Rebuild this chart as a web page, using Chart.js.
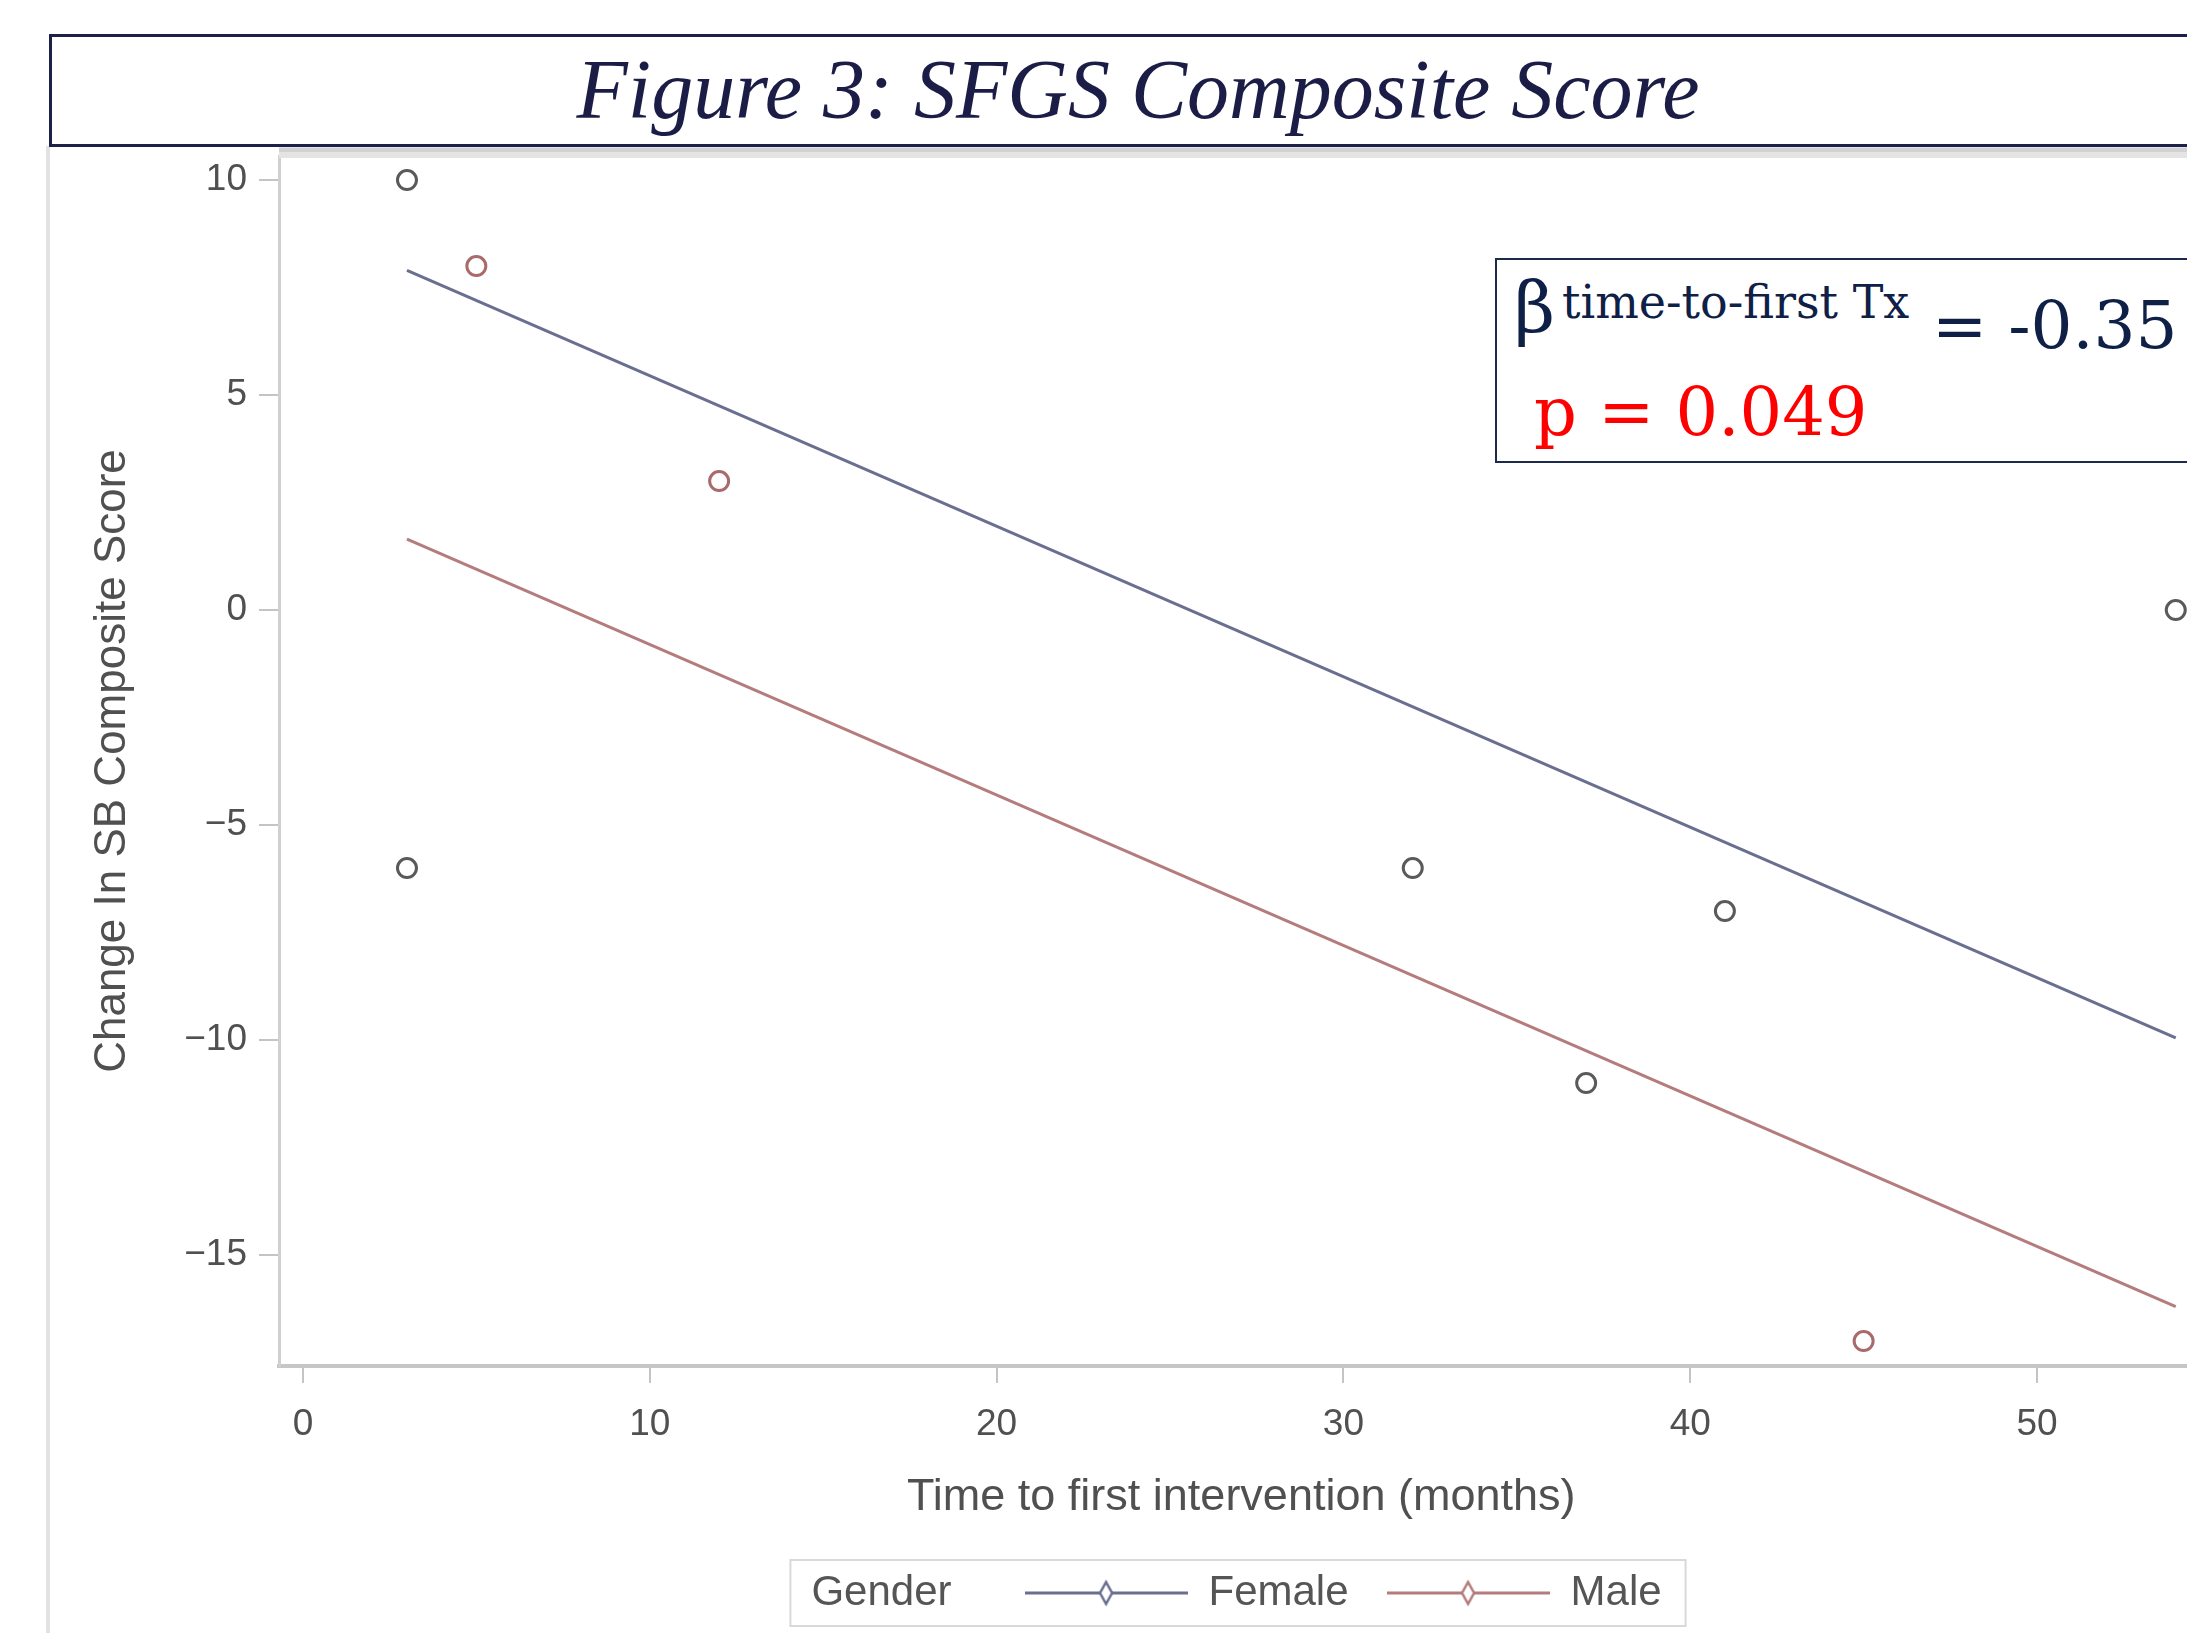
<!DOCTYPE html>
<html>
<head>
<meta charset="utf-8">
<title>Figure 3: SFGS Composite Score</title>
<script src="https://cdn.jsdelivr.net/npm/chart.js@4.4.0/dist/chart.umd.min.js"></script>
<style>
  html, body { margin: 0; padding: 0; background: #fff; overflow: hidden; width: 2187px; height: 1633px; }
  #slideEdge { position: absolute; left: 46px; top: 146px; width: 4px; height: 1487px; background: #e2e2e2; }
  #titleBox { position: absolute; left: 49px; top: 34px; width: 2200px; height: 113px; box-sizing: border-box;
              border: 3px solid #1d2048; background: #fff; }
  #titleText { position: absolute; left: 1138px; top: 48px; transform: translateX(-50%); white-space: nowrap;
               font-family: "Liberation Serif", serif; font-style: italic; font-size: 84px; line-height: 1; color: #1b1d47; }
  #sfgsChart { position: absolute; left: 0; top: 0; }
  #statBox { position: absolute; left: 1495px; top: 258px; width: 800px; height: 205px; box-sizing: border-box;
             border: 2px solid #1d2a4c; background: #fff; }
  .stat { position: absolute; white-space: nowrap; line-height: 1; font-family: "DejaVu Serif", serif; color: #0f2046; }
  #beta { left: 1514px; top: 272px; font-size: 71px; }
  #betaSup { left: 1562px; top: 279px; font-size: 46px; }
  #betaVal { left: 1932px; top: 293px; font-size: 66px; }
  #pVal { left: 1534px; top: 379px; font-size: 67px; color: #ff0000; }
</style>
</head>
<body>
<div id="slideEdge"></div>
<canvas id="sfgsChart" width="2216" height="1633"></canvas>
<div id="titleBox"></div>
<div id="titleText">Figure 3: SFGS Composite Score</div>
<div id="statBox"></div>
<span class="stat" id="beta">β</span>
<span class="stat" id="betaSup">time-to-first Tx</span>
<span class="stat" id="betaVal">= -0.35</span>
<span class="stat" id="pVal">p = 0.049</span>
<script>
const femaleMonths = [3, 3, 32, 37, 41, 54];
const femaleChange = [10, -6, -6, -11, -7, 0];
const maleMonths = [5, 12, 45];
const maleChange = [8, 3, -17];

// fitted lines (start and end of each)
const fitMonths = [3, 54];
const femaleFit = [7.9, -9.95];
const maleFit = [1.65, -16.2];

const legendNames = ["Gender", "Female", "Male"];

const femaleColor = "#6a6f90";
const maleColor = "#b47c7c";

function toPoints(xs, ys) {
    return xs.map((x, i) => ({ x: x, y: ys[i] }));
}

// little line-with-diamond sample used in the legend
function legendSample(color) {
    const c = document.createElement("canvas");
    c.width = 163;
    c.height = 30;
    const g = c.getContext("2d");
    if (color) {
        g.strokeStyle = color;
        g.lineWidth = 3;
        g.beginPath();
        g.moveTo(0, 15);
        g.lineTo(163, 15);
        g.stroke();
        g.fillStyle = "#fff";
        g.lineWidth = 2.5;
        g.beginPath();
        g.moveTo(81.5, 4);
        g.lineTo(87.5, 15);
        g.lineTo(81.5, 26);
        g.lineTo(75.5, 15);
        g.closePath();
        g.fill();
        g.stroke();
    }
    return c;
}

const topFrame = {
    id: "topFrame",
    beforeDatasetsDraw(chart) {
        const { ctx, chartArea } = chart;
        ctx.save();
        ctx.strokeStyle = "#e4e4e4";
        ctx.lineWidth = 12;
        ctx.beginPath();
        ctx.moveTo(chartArea.left, chartArea.top - 4);
        ctx.lineTo(chartArea.right, chartArea.top - 4);
        ctx.stroke();
        ctx.strokeStyle = "#d2d2d2";
        ctx.lineWidth = 4;
        ctx.beginPath();
        ctx.moveTo(chartArea.left, chartArea.top - 6);
        ctx.lineTo(chartArea.right, chartArea.top - 6);
        ctx.stroke();
        ctx.restore();
    }
};

const legendFrame = {
    id: "legendFrame",
    afterDraw(chart) {
        const lg = chart.legend;
        const boxes = lg.legendHitBoxes;
        if (!boxes || !boxes.length) return;
        const first = boxes[0];
        const last = boxes[boxes.length - 1];
        const x0 = first.left + 163;
        const x1 = last.left + last.width + 24;
        const yc = first.top + first.height / 2;
        const ctx = chart.ctx;
        ctx.save();
        ctx.strokeStyle = "#d9d9d9";
        ctx.lineWidth = 2;
        ctx.strokeRect(x0, yc - 33, x1 - x0, 66);
        ctx.restore();
    }
};

Chart.defaults.font.family = "'Liberation Sans', Arial, sans-serif";

const ctx = document.getElementById("sfgsChart").getContext("2d");

new Chart(ctx, {
    type: "scatter",
    data: {
        datasets: [
            {
                label: "Female fit",
                data: toPoints(fitMonths, femaleFit),
                showLine: true,
                borderColor: femaleColor,
                borderWidth: 3,
                pointRadius: 0
            },
            {
                label: "Male fit",
                data: toPoints(fitMonths, maleFit),
                showLine: true,
                borderColor: maleColor,
                borderWidth: 3,
                pointRadius: 0
            },
            {
                label: "Female",
                data: toPoints(femaleMonths, femaleChange),
                pointStyle: "circle",
                pointRadius: 9.5,
                pointBorderWidth: 3,
                pointBorderColor: "#5a5a5a",
                pointBackgroundColor: "rgba(255,255,255,0)"
            },
            {
                label: "Male",
                data: toPoints(maleMonths, maleChange),
                pointStyle: "circle",
                pointRadius: 9.5,
                pointBorderWidth: 3,
                pointBorderColor: "#a86a6a",
                pointBackgroundColor: "rgba(255,255,255,0)"
            }
        ]
    },
    options: {
        responsive: false,
        animation: false,
        layout: { padding: { left: 73, top: 156, right: 0, bottom: 9 } },
        plugins: {
            tooltip: { enabled: false },
            legend: {
                position: "bottom",
                onClick: () => {},
                labels: {
                    usePointStyle: true,
                    pointStyleWidth: 163,
                    padding: 38,
                    color: "#555",
                    font: { size: 42 },
                    generateLabels: () => [
                        { text: legendNames[0] + "   ", pointStyle: legendSample(null), fontColor: "#555" },
                        { text: legendNames[1], pointStyle: legendSample(femaleColor), fontColor: "#555" },
                        { text: legendNames[2], pointStyle: legendSample(maleColor), fontColor: "#555" }
                    ]
                }
            }
        },
        scales: {
            x: {
                type: "linear",
                min: -0.69,
                max: 54.8,
                afterFit: (s) => { s.height = 168; },
                ticks: { stepSize: 10, includeBounds: false, color: "#505050", font: { size: 37 }, padding: 20 },
                grid: { drawOnChartArea: false, tickLength: 17, color: "#c4c4c4", lineWidth: 2 },
                border: { color: "#c6c6c6", width: 4 },
                title: {
                    display: true,
                    text: "Time to first intervention (months)",
                    color: "#505050",
                    font: { size: 45 },
                    padding: { top: 0, bottom: 9 }
                }
            },
            y: {
                type: "linear",
                min: -17.58,
                max: 10.56,
                afterFit: (s) => { s.width = 206; },
                ticks: {
                    stepSize: 5,
                    includeBounds: false,
                    color: "#505050",
                    font: { size: 37 },
                    padding: 12,
                    callback: (v) => String(v).replace("-", "\u2212")
                },
                grid: { drawOnChartArea: false, tickLength: 20, color: "#c4c4c4", lineWidth: 2 },
                border: { color: "#d0d0d0", width: 3 },
                title: {
                    display: true,
                    text: "Change In SB Composite Score",
                    color: "#505050",
                    font: { size: 44 },
                    padding: { top: 13, bottom: 0 }
                }
            }
        }
    },
    plugins: [topFrame, legendFrame]
});
</script>
</body>
</html>
